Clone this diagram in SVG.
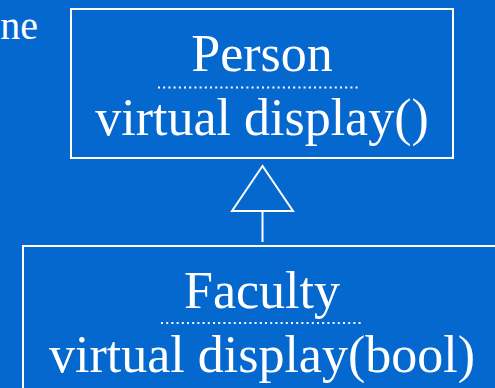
<svg xmlns="http://www.w3.org/2000/svg" width="495" height="388" viewBox="0 0 495 388">
<style>
.bg{fill:#0568CE}
.box{fill:none;stroke:#FFFFFF;stroke-width:2}
.t{font-family:"Liberation Serif","Times New Roman",serif;font-size:52px;fill:#FFFFFF;text-anchor:middle}
.dot{stroke:#FFFFFF;stroke-width:2;stroke-dasharray:2 3.2}
.conn{fill:none;stroke:#FFFFFF;stroke-width:2}
</style>
<rect class="bg" x="0" y="0" width="495" height="388"/>
<text x="38" y="39" font-family="Liberation Serif,serif" font-size="40" fill="#FFFFFF" text-anchor="end">ne</text>
<g id="person">
<rect class="box" x="71" y="9" width="382" height="149"/>
<text class="t" x="262" y="71">Person</text>
<line class="dot" x1="158" y1="87.5" x2="358" y2="87.5"/>
<text class="t" x="262" y="135">virtual display()</text>
</g>
<g id="faculty">
<rect class="box" x="23" y="246" width="500" height="160"/>
<text class="t" x="262" y="308">Faculty</text>
<line class="dot" x1="161" y1="323" x2="361" y2="323"/>
<text class="t" x="262" y="372">virtual display(bool)</text>
</g>
<g id="connectors">
<polygon class="conn" points="262.5,166 232,211 293,211"/>
<line class="conn" x1="262.5" y1="211" x2="262.5" y2="242"/>
</g>
</svg>
